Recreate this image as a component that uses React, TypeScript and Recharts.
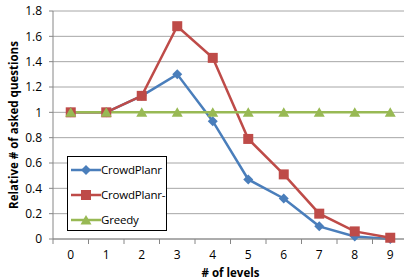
import { LineChart, Line, XAxis, YAxis, CartesianGrid } from 'recharts';

const levels = [0, 1, 2, 3, 4, 5, 6, 7, 8, 9];
const crowdPlanr = [1, 1, 1.13, 1.3, 0.93, 0.47, 0.32, 0.1, 0.02, 0];
const crowdPlanrMinus = [1, 1, 1.13, 1.68, 1.43, 0.79, 0.51, 0.2, 0.06, 0.01];
const greedy = [1, 1, 1, 1, 1, 1, 1, 1, 1, 1];
const yTicks = [0, 0.2, 0.4, 0.6, 0.8, 1, 1.2, 1.4, 1.6, 1.8];

const SERIES = [
  { key: 'crowdPlanr', name: 'CrowdPlanr', color: '#4a7ebb', shape: 'diamond' },
  { key: 'crowdPlanrMinus', name: 'CrowdPlanr-', color: '#be4b48', shape: 'square' },
  { key: 'greedy', name: 'Greedy', color: '#98b954', shape: 'triangle' },
];

const data = levels.map((lv, i) => ({
  level: lv,
  crowdPlanr: crowdPlanr[i],
  crowdPlanrMinus: crowdPlanrMinus[i],
  greedy: greedy[i],
}));

const FONT = '"Open Sans", "Liberation Sans", sans-serif';
const CHART_W = 408;
const CHART_H = 280;
const Y_W = 53;
const STEP = (CHART_W - Y_W) / levels.length;

function Marker({ cx, cy, shape, color }: any) {
  if (cx == null || cy == null) return null;
  if (shape === 'diamond') {
    const r = 5;
    return <polygon points={`${cx},${cy - r} ${cx + r},${cy} ${cx},${cy + r} ${cx - r},${cy}`} fill={color} />;
  }
  if (shape === 'square') {
    return <rect x={cx - 5} y={cy - 5} width={10} height={10} fill={color} />;
  }
  return <polygon points={`${cx},${cy - 5} ${cx + 5.5},${cy + 4.5} ${cx - 5.5},${cy + 4.5}`} fill={color} />;
}

function LevelTick({ x, y, payload, index }: any) {
  return (
    <g>
      <line x1={x - STEP / 2} x2={x - STEP / 2} y1={y} y2={y + 5} stroke="#868686" />
      {index === levels.length - 1 && (
        <line x1={x + STEP / 2} x2={x + STEP / 2} y1={y} y2={y + 5} stroke="#868686" />
      )}
      <text x={x} y={y + 20} textAnchor="middle" fontSize={12} fontFamily={FONT} fill="#000">
        {payload.value}
      </text>
    </g>
  );
}

function LegendBox() {
  return (
    <div
      style={{
        position: 'absolute',
        left: 67,
        top: 156,
        width: 100,
        height: 75,
        border: '1px solid #000',
        background: '#fff',
        fontFamily: FONT,
        fontSize: 11.5,
        letterSpacing: -0.2,
        boxSizing: 'border-box',
      }}
    >
      {SERIES.map((s) => (
        <div key={s.key} style={{ display: 'flex', alignItems: 'center', height: 25 }}>
          <svg width={31} height={12} style={{ marginLeft: 2 }}>
            <line x1={1} x2={31} y1={6} y2={6} stroke={s.color} strokeWidth={2.5} />
            <Marker cx={16} cy={6} shape={s.shape} color={s.color} />
          </svg>
          <span>{s.name}</span>
        </div>
      ))}
    </div>
  );
}

export default function App() {
  return (
    <div style={{ width: 404, height: 280, overflow: 'hidden', position: 'absolute', left: 0, top: 0 }}>
      <LineChart width={CHART_W} height={CHART_H} data={data} margin={{ top: 11, right: 0, bottom: 0, left: 0 }}>
        <CartesianGrid vertical={false} stroke="#a6a6a6" />
        <XAxis
          dataKey="level"
          type="number"
          domain={[-0.5, 9.5]}
          ticks={levels}
          interval={0}
          tick={<LevelTick />}
          tickLine={false}
          tickSize={0}
          tickMargin={0}
          height={41}
          stroke="#868686"
          label={{
            value: '# of levels',
            position: 'insideBottom',
            offset: 3,
            style: { fontFamily: FONT, fontSize: 11.5, fontWeight: 'bold', fill: '#000' },
          }}
        />
        <YAxis
          domain={[0, 1.8]}
          ticks={yTicks}
          interval={0}
          width={Y_W}
          tickSize={4}
          tickMargin={7}
          stroke="#868686"
          tick={{ fontSize: 12, fontFamily: FONT, fill: '#000' }}
          label={{
            value: 'Relative # of asked questions',
            angle: -90,
            position: 'insideLeft',
            offset: 14,
            style: { fontFamily: FONT, fontSize: 11.5, fontWeight: 'bold', fill: '#000', textAnchor: 'middle' },
          }}
        />
        {SERIES.map((s) => (
          <Line
            key={s.key}
            dataKey={s.key}
            name={s.name}
            stroke={s.color}
            strokeWidth={2.5}
            isAnimationActive={false}
            dot={(p: any) => <Marker key={`${s.key}-${p.index}`} cx={p.cx} cy={p.cy} shape={s.shape} color={s.color} />}
            activeDot={false}
          />
        ))}
      </LineChart>
      <LegendBox />
    </div>
  );
}
